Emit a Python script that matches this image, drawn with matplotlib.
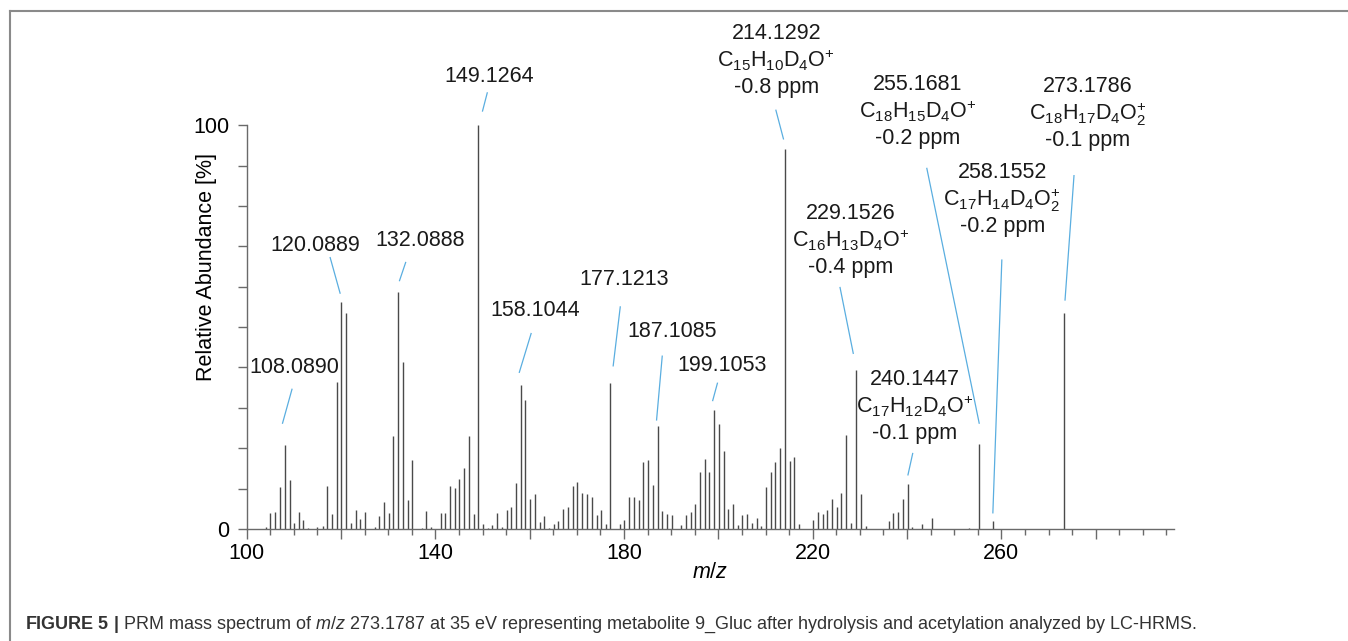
import matplotlib
matplotlib.use("Agg")
import matplotlib.pyplot as plt
from matplotlib.lines import Line2D
from matplotlib.ticker import FixedLocator, MultipleLocator, FuncFormatter

plt.rcParams['font.family'] = ['Liberation Sans', 'DejaVu Sans']
plt.rcParams['mathtext.fontset'] = 'custom'
plt.rcParams['mathtext.rm'] = 'Liberation Sans'
plt.rcParams['mathtext.it'] = 'Liberation Sans:italic'
plt.rcParams['mathtext.bf'] = 'Liberation Sans:bold'

# peaks: m/z and relative abundance (%)
mz = [104.0, 105.0, 106.1, 107.1, 108.0890, 109.1, 110.0, 111.0, 112.0, 113.0,
      115.0, 116.1, 117.1, 118.0, 119.1, 120.0889, 121.1, 122.1, 123.1, 124.1,
      125.1, 127.1, 128.1, 129.1, 130.1, 131.1, 132.0888, 133.1, 134.1, 135.1,
      137.1, 138.1, 139.1, 141.1, 142.1, 143.1, 144.1, 145.1, 146.1, 147.1,
      148.1, 149.1264, 150.1, 151.1, 152.1, 153.1, 154.1, 155.1, 156.1, 157.1,
      158.1044, 159.1, 160.1, 161.1, 162.1, 163.1, 164.1, 165.1, 166.1, 167.1,
      168.1, 169.1, 170.1, 171.1, 172.1, 173.2, 174.2, 175.2, 176.2, 177.1213,
      179.1, 180.1, 181.1, 182.1, 183.1, 184.1, 185.1, 186.1, 187.1085, 188.1,
      189.1, 190.1, 192.1, 193.1, 194.1, 195.1, 196.1, 197.1, 198.1, 199.1053,
      200.1, 201.1, 202.1, 203.1, 204.1, 205.1, 206.1, 207.1, 208.1, 209.1,
      210.1, 211.1, 212.1, 213.1, 214.1292, 215.1, 216.1, 217.1, 220.1, 221.1,
      222.1, 223.1, 224.1, 225.1, 226.1, 227.1, 228.1, 229.1526, 230.2, 231.2,
      236.1, 237.1, 238.1, 239.1, 240.1447, 241.1, 243.1, 245.2, 253.2, 255.1681,
      258.1552, 273.1786]
abundance = [0.5, 4.0, 4.1, 10.3, 20.8, 12.1, 1.6, 4.1, 2.2, 0.3,
             0.4, 0.8, 10.7, 3.6, 36.3, 56.2, 53.4, 1.6, 4.6, 2.5,
             4.1, 0.4, 3.2, 6.7, 4.0, 23.1, 58.7, 41.3, 7.2, 17.2,
             0.2, 4.5, 0.6, 3.9, 4.0, 10.7, 10.1, 12.5, 15.2, 23.0,
             3.8, 100.0, 1.2, 0.3, 1.0, 4.0, 0.4, 4.7, 5.4, 11.5,
             35.6, 31.9, 7.4, 8.7, 1.8, 3.1, 0.2, 1.2, 2.1, 5.0,
             5.4, 10.6, 11.6, 9.0, 8.7, 8.0, 3.4, 4.7, 1.2, 36.1,
             1.2, 2.2, 7.8, 8.0, 7.1, 16.5, 17.1, 11.0, 25.6, 4.5,
             3.8, 3.5, 1.1, 3.5, 4.3, 6.2, 14.0, 17.3, 14.1, 29.4,
             26.0, 19.3, 4.9, 6.1, 1.0, 3.4, 3.7, 1.4, 2.7, 0.8,
             10.4, 14.2, 16.5, 20.1, 94.2, 16.8, 17.9, 1.2, 2.2, 4.3,
             3.6, 4.8, 7.4, 5.5, 9.0, 23.4, 1.4, 39.3, 8.7, 0.8,
             2.1, 4.0, 4.1, 7.4, 11.2, 0.6, 1.2, 2.6, 0.2, 21.0,
             2.0, 53.5]

# annotated peaks: label lines
ann_lines = [
    ["108.0890"],
    ["120.0889"],
    ["132.0888"],
    ["149.1264"],
    ["158.1044"],
    ["177.1213"],
    ["187.1085"],
    ["199.1053"],
    ["214.1292", r"C$_{15}$H$_{10}$D$_{4}$O$^{+}$", "-0.8 ppm"],
    ["229.1526", r"C$_{16}$H$_{13}$D$_{4}$O$^{+}$", "-0.4 ppm"],
    ["240.1447", r"C$_{17}$H$_{12}$D$_{4}$O$^{+}$", "-0.1 ppm"],
    ["255.1681", r"C$_{18}$H$_{15}$D$_{4}$O$^{+}$", "-0.2 ppm"],
    ["258.1552", r"C$_{17}$H$_{14}$D$_{4}$O$_{2}^{+}$", "-0.2 ppm"],
    ["273.1786", r"C$_{18}$H$_{17}$D$_{4}$O$_{2}^{+}$", "-0.1 ppm"],
]
# label centre (x, y of first line) and leader line ends (low, high)
ann_text = [(110.0, 39.9), (114.6, 70.3), (136.7, 71.4), (151.4, 112.1),
            (161.1, 54.2), (180.1, 61.8), (190.1, 48.8), (200.8, 40.6),
            (212.3, 122.7), (228.1, 78.1), (241.7, 37.1), (242.3, 110.1),
            (260.2, 88.2), (278.3, 109.5)]
ann_lo = [(107.6, 26.2), (119.8, 58.4), (132.4, 61.5), (150.0, 103.5),
          (157.8, 38.8), (177.7, 40.4), (186.9, 27.0), (198.8, 31.8),
          (213.8, 96.6), (228.6, 43.5), (240.2, 13.4), (255.3, 26.2),
          (258.2, 4.0), (273.5, 56.7)]
ann_hi = [(109.6, 34.6), (117.7, 67.2), (133.7, 66.0), (151.0, 108.0),
          (160.3, 48.4), (179.2, 55.0), (188.1, 42.8), (199.8, 36.1),
          (212.2, 103.7), (225.8, 59.8), (241.2, 18.7), (244.2, 89.3),
          (260.1, 66.6), (275.4, 87.5)]

fig = plt.figure(figsize=(13.48, 6.41), dpi=100)
ax = fig.add_axes([0.18301, 0.17473, 0.6879, 0.8190])

ax.vlines(mz, 0, abundance, color='#4a4a4a', linewidth=1.0)

fs = 15.5
for lines, (tx, ty), lo, hi in zip(ann_lines, ann_text, ann_lo, ann_hi):
    for k, s in enumerate(lines):
        ax.text(tx, ty - 6.7 * k, s, ha='center', va='center', fontsize=fs,
                color='#1a1a1a')
    ax.plot([lo[0], hi[0]], [lo[1], hi[1]], color='#5aaee0', linewidth=0.9)

ax.set_xlim(100, 296.6)
ax.set_ylim(0, 130)

for s in ['top', 'right']:
    ax.spines[s].set_visible(False)
for s in ['left', 'bottom']:
    ax.spines[s].set_color('#6a6a6a')
    ax.spines[s].set_linewidth(1.0)
ax.spines['left'].set_bounds(0, 100)

ax.xaxis.set_major_locator(FixedLocator(list(range(100, 281, 20))))
ax.xaxis.set_minor_locator(MultipleLocator(5))
ax.xaxis.set_major_formatter(FuncFormatter(lambda v, p: f'{v:.0f}' if v % 40 == 20 else ''))
ax.yaxis.set_major_locator(FixedLocator(list(range(0, 101, 10))))
ax.yaxis.set_major_formatter(FuncFormatter(lambda v, p: f'{v:.0f}' if v in (0, 100) else ''))

ax.tick_params(axis='x', which='major', length=7, width=1.0, color='#6a6a6a',
               labelsize=fs, pad=3)
ax.tick_params(axis='x', which='minor', length=4, width=1.0, color='#6a6a6a')
ax.tick_params(axis='y', which='major', length=6.5, width=1.0, color='#6a6a6a',
               labelsize=fs, pad=6)

ax.set_xlabel(r'$\it{m/z}$', fontsize=fs, va='center')
ax.xaxis.set_label_coords(0.5, -0.082)
ax.set_ylabel('Relative Abundance [%]', fontsize=fs, va='center')
ax.yaxis.set_label_coords(-0.043, 0.5)

# frame lines (left and top) around the figure panel
fig.add_artist(Line2D([0.00705, 0.00705], [0.0, 0.98284], transform=fig.transFigure,
                      color='#8a8a8a', linewidth=1.5))
fig.add_artist(Line2D([0.00705, 1.0], [0.98284, 0.98284], transform=fig.transFigure,
                      color='#8a8a8a', linewidth=1.5))

caption = (r'$\mathbf{FIGURE\ 5\ |}$ PRM mass spectrum of $\mathit{m/z}$ 273.1787 at 35 eV '
           'representing metabolite 9_Gluc after hydrolysis and acetylation analyzed by LC-HRMS.')
fig.text(25 / 1348, 1 - 625 / 641, caption, ha='left', va='center', fontsize=13,
         color='#333333')

fig.savefig('out.png', dpi=100)
